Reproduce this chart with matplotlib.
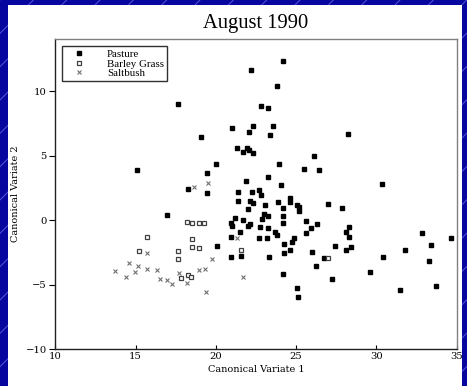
import matplotlib
matplotlib.use('Agg')
import matplotlib.pyplot as plt
from matplotlib.patches import Rectangle

# Pasture (filled squares)
pasture_x = [24.16, 22.18, 23.80, 22.81, 23.22, 20.98, 22.31, 23.57, 22.08, 23.35,
             19.09, 28.20, 21.29, 21.92, 21.67, 22.08, 22.33, 26.09, 20.01, 23.95,
             25.46, 26.43, 19.45, 23.27, 21.86, 24.09, 18.25, 19.47, 30.32, 21.39,
             22.27, 22.68, 22.79, 21.39, 22.12, 22.33, 23.06, 23.87, 24.18, 24.59,
             24.64, 25.03, 25.18, 25.21, 27.00, 27.87, 22.02, 22.99, 23.26, 24.16,
             21.19, 20.97, 21.02, 21.71, 22.12, 21.98, 22.85, 22.78, 23.24, 24.16,
             23.68, 23.80, 21.50, 20.94, 22.66, 23.19, 25.59, 26.31, 25.92, 25.59,
             24.89, 24.72, 28.30, 28.08, 28.28, 28.41, 28.10, 27.41, 24.22, 20.10,
             24.61, 24.25, 20.94, 21.56, 23.32, 26.00, 26.75, 26.25, 30.38, 29.58,
             31.75, 32.81, 33.37, 34.67, 33.25, 33.70, 31.48, 27.24, 24.16, 25.05,
             25.11, 17.62, 15.07, 16.94]
pasture_y = [12.32, 11.63, 10.41, 8.84, 8.68, 7.11, 7.29, 7.29, 6.85, 6.62,
             6.46, 6.67, 5.58, 5.61, 5.27, 5.43, 5.17, 4.99, 4.32, 4.32,
             3.98, 3.90, 3.63, 3.35, 3.05, 2.70, 2.42, 2.08, 2.80, 2.20,
             2.20, 2.33, 1.94, 1.50, 1.50, 1.34, 1.15, 1.38, 0.91, 1.69,
             1.43, 1.19, 1.00, 0.68, 1.22, 0.91, 0.86, 0.49, 0.30, 0.34,
             0.14, -0.19, -0.43, -0.02, -0.29, -0.42, 0.06, -0.53, -0.64, -0.22,
             -0.90, -1.15, -0.92, -1.27, -1.36, -1.36, -0.09, -0.33, -0.64, -1.02,
             -1.41, -1.70, -0.51, -0.90, -1.29, -2.06, -2.32, -1.98, -1.87, -1.97,
             -2.35, -2.55, -2.86, -2.80, -2.86, -2.49, -2.96, -3.59, -2.86, -4.00,
             -2.32, -1.02, -1.95, -1.36, -3.15, -5.08, -5.41, -4.58, -4.15, -5.28,
             -5.93, 8.99, 3.88, 0.36]

# Barley Grass (open squares)
barley_x = [18.18, 18.49, 18.98, 19.26, 15.69, 15.23, 18.51, 18.54, 18.95, 17.62,
            17.62, 17.83, 18.25, 18.43, 21.56, 27.00]
barley_y = [-0.12, -0.20, -0.25, -0.19, -1.33, -2.37, -1.46, -2.06, -2.14, -2.42,
            -3.01, -4.46, -4.23, -4.43, -2.30, -2.96]

# Saltbush (crosses)
salt_x = [18.66, 19.54, 21.33, 15.69, 19.74, 14.59, 15.15, 14.98, 15.73, 16.35,
          13.72, 14.42, 16.52, 16.94, 17.29, 17.72, 18.18, 18.97, 19.34, 19.38, 21.69]
salt_y = [2.59, 2.90, -1.35, -2.57, -3.04, -3.35, -3.53, -4.02, -3.81, -3.87,
          -3.97, -4.43, -4.59, -4.62, -4.97, -4.12, -4.85, -3.87, -3.75, -5.59, -4.43]

x_ticks = [10, 15, 20, 25, 30, 35]
y_ticks = [-10, -5, 0, 5, 10]

plt.rcParams['hatch.linewidth'] = 0.7

fig = plt.figure(figsize=(4.67, 3.86), dpi=100)
fig.patch.set_facecolor('#0707a0')

# slide background: striped blue with white panel
bg = Rectangle((0, 0), 1, 1, transform=fig.transFigure, facecolor='#0707a0',
               hatch='/', edgecolor='#5656d8', linewidth=0, zorder=-3)
fig.patches.append(bg)
panel = Rectangle((0.0171, 0), 0.972, 0.987, transform=fig.transFigure,
                  facecolor='white', edgecolor='none', zorder=-2)
fig.patches.append(panel)

ax = fig.add_axes([0.1182, 0.0953, 0.8598, 0.8037])
ax.set_facecolor('white')

ax.plot(pasture_x, pasture_y, 's', color='black', markersize=3.4,
        linestyle='none', label='Pasture')
ax.plot(barley_x, barley_y, 's', markerfacecolor='white', markeredgecolor='#404040',
        markeredgewidth=0.9, markersize=3.4, linestyle='none', label='Barley Grass')
ax.plot(salt_x, salt_y, 'x', color='#707070', markeredgewidth=0.8, markersize=3.4,
        linestyle='none', label='Saltbush')

ax.set_xlim(10, 35)
ax.set_ylim(-10, 14.03)
ax.set_xticks(x_ticks)
ax.set_yticks(y_ticks)
ax.set_xticklabels([str(t) for t in x_ticks], family='DejaVu Serif', fontsize=7.2)
ax.set_yticklabels([str(t).replace('-', '\u2212') for t in y_ticks],
                   family='DejaVu Serif', fontsize=7.2)
ax.tick_params(axis='y', direction='out', length=4, width=0.8, pad=2)
ax.tick_params(axis='x', direction='in', length=3, width=0.8, pad=2)

for s in ['left', 'bottom']:
    ax.spines[s].set_color('#202020')
    ax.spines[s].set_linewidth(1.0)
for s in ['top', 'right']:
    ax.spines[s].set_color('#808080')
    ax.spines[s].set_linewidth(1.0)

ax.set_xlabel('Canonical Variate 1', family='DejaVu Serif', fontsize=7, labelpad=3)
ax.set_ylabel('Canonical Variate 2', family='DejaVu Serif', fontsize=7, labelpad=4)
ax.set_title('August 1990', family='Liberation Serif', fontsize=14.8, pad=8)

leg = ax.legend(loc='upper left', bbox_to_anchor=(0.016, 0.977),
                prop={'family': 'Liberation Serif', 'size': 7.8}, frameon=True,
                fancybox=False, edgecolor='#303030', framealpha=1,
                borderpad=0.3, labelspacing=0.0, handletextpad=1.3,
                handlelength=2.6, borderaxespad=0)
leg.get_frame().set_linewidth(1.0)

plt.savefig('out.png', dpi=100, facecolor=fig.get_facecolor())
